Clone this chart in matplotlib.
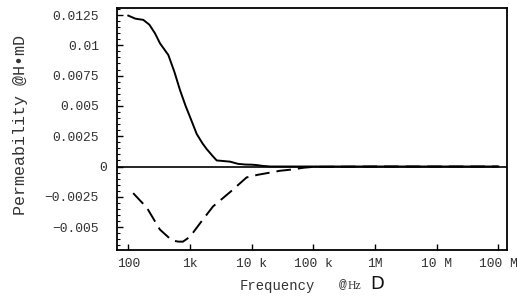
import matplotlib
matplotlib.use("Agg")
import matplotlib.pyplot as plt
from matplotlib.ticker import FixedLocator, MultipleLocator, NullLocator
from matplotlib.transforms import ScaledTranslation

# ---- data ----
real_freq = [100, 130, 175, 220, 271, 327, 446, 560, 689, 850, 1000, 1285, 1600, 1866,
             2300, 2716, 3500, 4470, 6000, 8000, 10000, 12000, 15000, 20000,
             1e5, 1e6, 1e7, 1e8]
real_perm = [0.01245, 0.0122, 0.0121, 0.0117, 0.01099, 0.01016, 0.0092, 0.0078, 0.00631,
             0.0050, 0.0041, 0.00269, 0.0019, 0.00144, 0.0009, 0.0005, 0.00045, 0.0004,
             0.00022, 0.00016, 0.00015, 0.00012, 0.00005, 0.0, 0.0, 0.0, 0.0, 0.0]

imag_freq = [120, 200, 325, 510, 650, 770, 1000, 1450, 2360, 4500, 8300, 12700,
             18600, 29000, 45000, 70000, 100000, 1e6, 1e7, 1e8]
imag_perm = [-0.0022, -0.0034, -0.0052, -0.0061, -0.0062, -0.0062, -0.0058, -0.0047,
             -0.0033, -0.0021, -0.0009, -0.00068, -0.00053, -0.00035, -0.00025,
             -0.0001, -0.00003, 0.0, 0.0, 0.0]

xtick_vals = [1e2, 1e3, 1e4, 1e5, 1e6, 1e7, 1e8]
xtick_labels = ["100", "1k", "10 k", "100 k", "1M", "10 M", "100 M"]
ytick_vals = [-0.005, -0.0025, 0, 0.0025, 0.005, 0.0075, 0.01, 0.0125]
ytick_labels = ["\u22120.005", "\u22120.0025", "0", "0.0025", "0.005", "0.0075", "0.01", "0.0125"]

mono = "Liberation Mono"
fs = 9.4
tc = "#333333"

fig = plt.figure(figsize=(5.18, 3.0), dpi=100)
ax = fig.add_axes([117/518, 1 - 250/300, (507-117)/518, (250-7.5)/300])

ax.set_xscale("log")
ax.set_xlim(10**1.817, 10**8.141)
ax.set_ylim(-0.00689, 0.01312)

ax.axhline(0, color="black", lw=1.2, zorder=3)
ax.plot(real_freq, real_perm, color="black", lw=1.4, solid_joinstyle="round")
ax.plot(imag_freq, imag_perm, color="black", lw=1.4, dashes=(7.5, 3.6))

ax.xaxis.set_major_locator(FixedLocator(xtick_vals))
ax.xaxis.set_minor_locator(NullLocator())
ax.set_xticklabels(xtick_labels, fontfamily=mono, fontsize=fs)
ax.yaxis.set_major_locator(FixedLocator(ytick_vals))
ax.yaxis.set_minor_locator(MultipleLocator(0.0005))
ax.set_yticklabels(ytick_labels, fontfamily=mono, fontsize=fs)

ax.tick_params(axis="both", which="major", direction="in", length=4.5, width=1.0,
               color="black", labelcolor=tc)
ax.tick_params(axis="y", which="minor", direction="in", length=2.5, width=0.8)
ax.tick_params(axis="x", which="major", pad=6)
ax.tick_params(axis="y", which="major", pad=13)
ax.tick_params(top=False, right=False)

# the "0" label sits a little further right in the reference
for lab in ax.get_yticklabels():
    if lab.get_text() == "0":
        lab.set_transform(lab.get_transform() + ScaledTranslation(8/100, 0, fig.dpi_scale_trans))

for s in ax.spines.values():
    s.set_linewidth(1.3)
    s.set_color("black")

# axis labels
fig.text(21/518, 1 - 125/300, "Permeability @H\u2022mD", rotation=90, ha="center",
         va="center", fontfamily=mono, fontsize=12, color=tc)
fig.text(277/518, 1 - 286/300, "Frequency", ha="center", va="center",
         fontfamily=mono, fontsize=10, color=tc)
fig.text(339/518, 1 - 284/300, "@", ha="left", va="center",
         fontfamily=mono, fontsize=fs, color=tc)
fig.text(348/518, 1 - 286/300, "Hz", ha="left", va="center",
         fontfamily="Liberation Serif", fontsize=8.5, color=tc)
fig.text(370/518, 1 - 284/300, "D", ha="left", va="center",
         fontfamily="DejaVu Sans", fontsize=13, color="#111111")

fig.savefig("out.png", dpi=100)
